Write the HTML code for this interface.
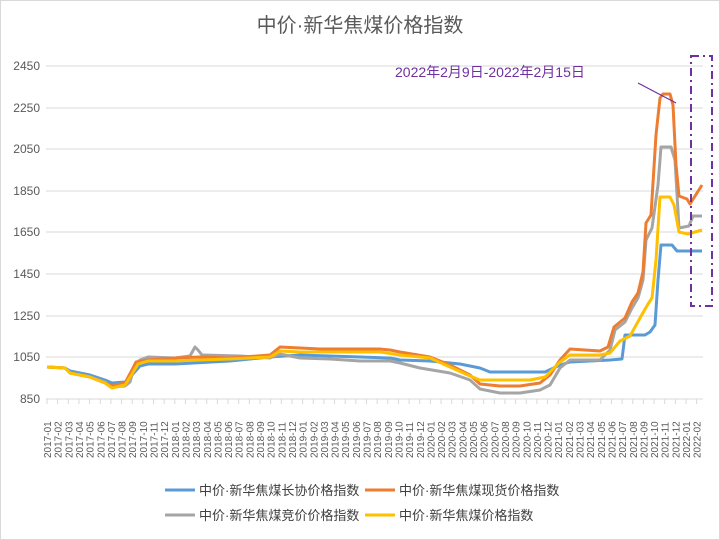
<!DOCTYPE html>
<html><head><meta charset="utf-8"><style>
body{margin:0;background:#fff;}
svg{display:block;font-family:"Liberation Sans","Noto Sans CJK SC",sans-serif;}
</style></head><body>
<svg width="720" height="540" viewBox="0 0 720 540">
<rect x="0.5" y="0.5" width="719" height="539" fill="#fff" stroke="#d9d9d9"/>
<text x="360" y="32" text-anchor="middle" font-size="20" fill="#595959">中价·新华焦煤价格指数</text>
<g stroke="#d9d9d9" stroke-width="1">
<line x1="46" y1="66" x2="703" y2="66"/><line x1="46" y1="108" x2="703" y2="108"/>
<line x1="46" y1="149" x2="703" y2="149"/><line x1="46" y1="191" x2="703" y2="191"/>
<line x1="46" y1="232" x2="703" y2="232"/><line x1="46" y1="274" x2="703" y2="274"/>
<line x1="46" y1="316" x2="703" y2="316"/><line x1="46" y1="357" x2="703" y2="357"/>
<line x1="46" y1="399" x2="703" y2="399"/>
<line x1="46.5" y1="401.5" x2="704" y2="401.5" stroke-width="5" stroke-dasharray="1 9.65"/>
</g>
<g font-size="12" fill="#595959" text-anchor="end">
<text x="40" y="70">2450</text><text x="40" y="112">2250</text><text x="40" y="153">2050</text>
<text x="40" y="195">1850</text><text x="40" y="236">1650</text><text x="40" y="278">1450</text>
<text x="40" y="320">1250</text><text x="40" y="361">1050</text><text x="40" y="403">850</text>
</g>
<g font-size="10" fill="#595959">
<text transform="translate(51,458) rotate(-90)">2017-01</text>
<text transform="translate(61.65,458) rotate(-90)">2017-02</text>
<text transform="translate(72.3,458) rotate(-90)">2017-03</text>
<text transform="translate(82.95,458) rotate(-90)">2017-04</text>
<text transform="translate(93.6,458) rotate(-90)">2017-05</text>
<text transform="translate(104.25,458) rotate(-90)">2017-06</text>
<text transform="translate(114.9,458) rotate(-90)">2017-07</text>
<text transform="translate(125.55,458) rotate(-90)">2017-08</text>
<text transform="translate(136.2,458) rotate(-90)">2017-09</text>
<text transform="translate(146.85,458) rotate(-90)">2017-10</text>
<text transform="translate(157.5,458) rotate(-90)">2017-11</text>
<text transform="translate(168.15,458) rotate(-90)">2017-12</text>
<text transform="translate(178.8,458) rotate(-90)">2018-01</text>
<text transform="translate(189.45,458) rotate(-90)">2018-02</text>
<text transform="translate(200.1,458) rotate(-90)">2018-03</text>
<text transform="translate(210.75,458) rotate(-90)">2018-04</text>
<text transform="translate(221.4,458) rotate(-90)">2018-05</text>
<text transform="translate(232.05,458) rotate(-90)">2018-06</text>
<text transform="translate(242.7,458) rotate(-90)">2018-07</text>
<text transform="translate(253.35,458) rotate(-90)">2018-08</text>
<text transform="translate(264,458) rotate(-90)">2018-09</text>
<text transform="translate(274.65,458) rotate(-90)">2018-10</text>
<text transform="translate(285.3,458) rotate(-90)">2018-11</text>
<text transform="translate(295.95,458) rotate(-90)">2018-12</text>
<text transform="translate(306.6,458) rotate(-90)">2019-01</text>
<text transform="translate(317.25,458) rotate(-90)">2019-02</text>
<text transform="translate(327.9,458) rotate(-90)">2019-03</text>
<text transform="translate(338.55,458) rotate(-90)">2019-04</text>
<text transform="translate(349.2,458) rotate(-90)">2019-05</text>
<text transform="translate(359.85,458) rotate(-90)">2019-06</text>
<text transform="translate(370.5,458) rotate(-90)">2019-07</text>
<text transform="translate(381.15,458) rotate(-90)">2019-08</text>
<text transform="translate(391.8,458) rotate(-90)">2019-09</text>
<text transform="translate(402.45,458) rotate(-90)">2019-10</text>
<text transform="translate(413.1,458) rotate(-90)">2019-11</text>
<text transform="translate(423.75,458) rotate(-90)">2019-12</text>
<text transform="translate(434.4,458) rotate(-90)">2020-01</text>
<text transform="translate(445.05,458) rotate(-90)">2020-02</text>
<text transform="translate(455.7,458) rotate(-90)">2020-03</text>
<text transform="translate(466.35,458) rotate(-90)">2020-04</text>
<text transform="translate(477,458) rotate(-90)">2020-05</text>
<text transform="translate(487.65,458) rotate(-90)">2020-06</text>
<text transform="translate(498.3,458) rotate(-90)">2020-07</text>
<text transform="translate(508.95,458) rotate(-90)">2020-08</text>
<text transform="translate(519.6,458) rotate(-90)">2020-09</text>
<text transform="translate(530.25,458) rotate(-90)">2020-10</text>
<text transform="translate(540.9,458) rotate(-90)">2020-11</text>
<text transform="translate(551.55,458) rotate(-90)">2020-12</text>
<text transform="translate(562.2,458) rotate(-90)">2021-01</text>
<text transform="translate(572.85,458) rotate(-90)">2021-02</text>
<text transform="translate(583.5,458) rotate(-90)">2021-03</text>
<text transform="translate(594.15,458) rotate(-90)">2021-04</text>
<text transform="translate(604.8,458) rotate(-90)">2021-05</text>
<text transform="translate(615.45,458) rotate(-90)">2021-06</text>
<text transform="translate(626.1,458) rotate(-90)">2021-07</text>
<text transform="translate(636.75,458) rotate(-90)">2021-08</text>
<text transform="translate(647.4,458) rotate(-90)">2021-09</text>
<text transform="translate(658.05,458) rotate(-90)">2021-10</text>
<text transform="translate(668.7,458) rotate(-90)">2021-11</text>
<text transform="translate(679.35,458) rotate(-90)">2021-12</text>
<text transform="translate(690,458) rotate(-90)">2022-01</text>
<text transform="translate(700.65,458) rotate(-90)">2022-02</text>
</g>
<g fill="none" stroke-width="3" stroke-linejoin="round">
<polyline stroke="#5b9bd5" points="47,367 65,368 70,371 90,375 105,380 112,383 125,382 132,375 140,366 148,364 175,364 230,361 270,357 300,355 360,357 390,358 400,360 430,361 460,364 480,368 490,372 545,372 560,365 570,362 610,360 622,359 625,335 645,335 650,332 655,325 658,280 661,245 672,245 677,251 702,251"/>
<polyline stroke="#a5a5a5" points="47,367 65,368 70,373 90,377 105,382 112,387 125,386 130,382 135,364 140,360 148,357 175,358 190,356 195,347 198,350 202,355 240,356 270,358 280,354 290,356 300,358 330,359 360,361 390,361 400,363 420,368 450,373 470,380 480,389 500,393 520,393 540,390 550,385 560,368 570,360 600,360 610,350 615,330 625,322 632,308 638,298 643,280 646,240 652,228 658,185 661,147 671,147 675,160 679,228 689,226 693,216 702,216"/>
<polyline stroke="#ed7d31" points="47,367 65,368 70,373 90,377 105,383 112,386 125,383 132,370 136,362 148,360 175,358 200,357 230,358 270,355 280,347 300,348 320,349 380,349 390,350 400,352 430,357 450,365 470,375 480,384 500,386 520,386 540,383 550,375 560,360 570,349 600,351 608,347 614,327 625,318 632,302 638,293 643,272 646,223 651,215 656,135 660,98 663,94 670,94 673,105 676,165 679,196 687,199 690,204 702,185"/>
<polyline stroke="#ffc000" points="47,367 65,368 70,373 90,377 105,383 112,388 125,385 132,374 138,364 148,361 175,361 200,360 230,359 270,357 280,351 300,352 380,352 400,355 430,358 450,367 470,376 480,380 530,380 545,377 560,362 570,355 600,355 610,353 620,341 630,336 640,318 648,304 652,298 656,260 660,197 670,197 674,205 679,232 688,234 702,230"/>
</g>
<text x="395" y="77" font-size="14" fill="#7030a0">2022年2月9日-2022年2月15日</text>
<line x1="638" y1="83" x2="676" y2="103" stroke="#7030a0" stroke-width="1.2"/>
<rect x="691" y="56" width="21" height="250" fill="none" stroke="#7030a0" stroke-width="2" stroke-dasharray="8,4,2,4"/>
<g font-size="13" fill="#404040">
<line x1="165" y1="490" x2="195" y2="490" stroke="#5b9bd5" stroke-width="3"/>
<text x="199" y="495">中价·新华焦煤长协价格指数</text>
<line x1="365" y1="490" x2="395" y2="490" stroke="#ed7d31" stroke-width="3"/>
<text x="399" y="495">中价·新华焦煤现货价格指数</text>
<line x1="165" y1="515" x2="195" y2="515" stroke="#a5a5a5" stroke-width="3"/>
<text x="199" y="520">中价·新华焦煤竞价价格指数</text>
<line x1="365" y1="515" x2="395" y2="515" stroke="#ffc000" stroke-width="3"/>
<text x="399" y="520">中价·新华焦煤价格指数</text>
</g>
</svg>
</body></html>
